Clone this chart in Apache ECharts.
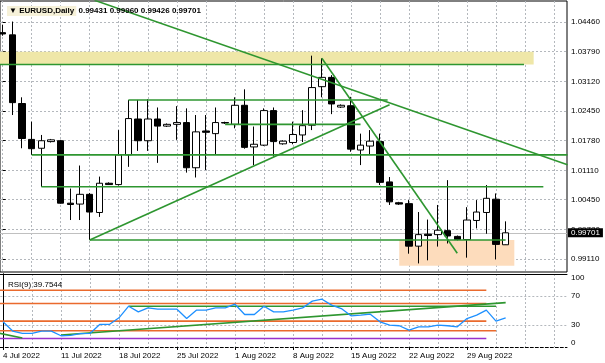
<!DOCTYPE html>
<html><head><meta charset="utf-8">
<script src="https://cdn.jsdelivr.net/npm/echarts@6/dist/echarts.min.js"></script>
<style>html,body{margin:0;padding:0;background:#fff}#c{width:605px;height:363px}</style>
</head><body><div id="c"></div>
<script>
const categories = ['4 Jul 2022','5 Jul 2022','6 Jul 2022','7 Jul 2022','8 Jul 2022','10 Jul 2022','11 Jul 2022','12 Jul 2022','13 Jul 2022','14 Jul 2022','15 Jul 2022','17 Jul 2022','18 Jul 2022','19 Jul 2022','20 Jul 2022','21 Jul 2022','22 Jul 2022','24 Jul 2022','25 Jul 2022','26 Jul 2022','27 Jul 2022','28 Jul 2022','29 Jul 2022','31 Jul 2022','1 Aug 2022','2 Aug 2022','3 Aug 2022','4 Aug 2022','5 Aug 2022','7 Aug 2022','8 Aug 2022','9 Aug 2022','10 Aug 2022','11 Aug 2022','12 Aug 2022','14 Aug 2022','15 Aug 2022','16 Aug 2022','17 Aug 2022','18 Aug 2022','19 Aug 2022','21 Aug 2022','22 Aug 2022','23 Aug 2022','24 Aug 2022','25 Aug 2022','26 Aug 2022','28 Aug 2022','29 Aug 2022','30 Aug 2022','31 Aug 2022','1 Sep 2022','2 Sep 2022'];
const openP  = [1.0422,1.0417,1.0262,1.0181,1.0161,1.0176,1.0178,1.0037,1.0035,1.0057,1.0016,1.0082,1.0079,1.0146,1.0227,1.0178,1.0227,1.0211,1.0215,1.0219,1.0117,1.0200,1.0194,1.0219,1.0215,1.0258,1.0164,1.0168,1.0246,1.0171,1.0174,1.0191,1.0213,1.0300,1.0321,1.0254,1.0257,1.0157,1.0166,1.0176,1.0085,1.0038,1.0036,0.9940,0.9967,0.9966,0.9975,0.9962,0.9955,0.9998,1.0016,1.0046,0.99431];
const highP  = [1.0440,1.0447,1.0276,1.0221,1.0191,1.0182,1.0180,1.0070,1.0122,1.0060,1.0097,1.0084,1.0202,1.0270,1.0270,1.0272,1.0253,1.0217,1.0256,1.0251,1.0236,1.0236,1.0253,1.0221,1.0276,1.0294,1.0210,1.0251,1.0253,1.0179,1.0221,1.0247,1.0370,1.0364,1.0326,1.0260,1.0277,1.0194,1.0202,1.0194,1.0096,1.0040,1.0044,1.0017,1.0000,1.0033,1.0089,0.9964,1.0028,1.0044,1.0078,1.0059,0.99960];
const lowP   = [1.0415,1.0236,1.0161,1.0146,1.0074,1.0174,1.0036,0.9999,0.9999,0.9954,1.0006,1.0078,1.0077,1.0119,1.0155,1.0155,1.0128,1.0209,1.0180,1.0106,1.0095,1.0112,1.0146,1.0216,1.0206,1.0160,1.0123,1.0166,1.0142,1.0169,1.0170,1.0175,1.0202,1.0276,1.0238,1.0252,1.0153,1.0123,1.0146,1.0078,1.0033,1.0033,0.9923,0.9901,0.9908,0.9939,0.9946,0.9953,0.9914,0.9980,0.9968,0.9910,0.99426];
const closeP = [1.0419,1.0264,1.0183,1.0160,1.0178,1.0180,1.0037,1.0034,1.0057,1.0017,1.0082,1.0079,1.0146,1.0228,1.0178,1.0227,1.0211,1.0215,1.0219,1.0117,1.0198,1.0197,1.0219,1.0218,1.0258,1.0163,1.0170,1.0246,1.0176,1.0177,1.0192,1.0212,1.0298,1.0321,1.0261,1.0258,1.0159,1.0168,1.0177,1.0084,1.0040,1.0035,0.9940,0.9966,0.9964,0.9976,0.9963,0.9955,0.9999,1.0017,1.0048,0.9944,0.99701];
const rsiValues = [34.5,21.8,18.6,18.6,21.8,21.8,15.4,15.9,18.2,18.6,30.9,30.9,40.0,55.9,48.2,53.6,51.8,51.8,51.8,39.0,50.5,50.5,53.6,53.6,58.6,44.5,44.5,55.9,48.2,48.2,50.5,53.6,62.8,65.5,57.3,52.7,42.7,43.6,45.0,34.5,30.0,29.1,23.2,27.7,27.7,30.0,29.1,27.7,39.0,43.6,50.5,35.5,39.7544];
const priceTicks = [0.99110,0.99780,1.00450,1.01110,1.01780,1.02450,1.03120,1.03790,1.04460];
const rsiTicks = [0,30,70,100];
const rsiGridLevels = [30,70];
const dateTickLabels = ['4 Jul 2022','11 Jul 2022','18 Jul 2022','25 Jul 2022','1 Aug 2022','8 Aug 2022','15 Aug 2022','22 Aug 2022','29 Aug 2022'];
const symbolName = 'EURUSD,Daily';
const rsiName = 'RSI(9)';
// drawing objects, in (bar index, price)
const greenLines = [
  [[9.5,1.0495],[58.4,1.0124]],
  [[13,1.0270],[39.8,1.0270]],
  [[23,1.0215],[37,1.0215]],
  [[3,1.0146],[58.4,1.0146]],
  [[4,1.0074],[55.9,1.0074]],
  [[9,0.9954],[52,0.9954]],
  [[9,0.9954],[40,1.0259]],
  [[33,1.0364],[47,0.9924]],
  [[-1,1.0350],[53.9,1.0350]]
];
const yellowZone = [[-1,1.0379],[54.9,1.0350]];
const peachZone = [[41,0.9954],[52.9,0.9896]];
// RSI window objects, in (bar index, RSI)
const rsiOrangeLines = [
  [[-1,77.8],[50,77.8]],
  [[-1,59.5],[50,59.5]],
  [[-1,35.5],[50,35.5]],
  [[-1,22.2],[51,22.2]]
];
const rsiPurpleLine = [[-1,11.7],[50,11.7]];
const rsiGreenLines = [
  [[13,55.9],[51,55.9]],
  [[6,16.4],[52,60.8]],
  [[-1,20.6],[2,12.3]]
];

const FONT = 'Liberation Sans, Arial, sans-serif';
const XMIN = -0.277, XMAX = 58.346;
const YMIN = 0.988165, YMAX = 1.049341;
const GREEN = '#2e9630', ORANGE = '#ea6a2d', PURPLE = '#9932cc', GRIDC = '#b4b8bd';
const last = closeP.length - 1;
const gridBars = []; for (let i = 0; i <= XMAX; i += 3) gridBars.push(i);
const dateBars = dateTickLabels.map(l => categories.indexOf(l));

const chart = echarts.init(document.getElementById('c'), null, {renderer: 'canvas'});
const candleData = categories.map((d, i) => [i, openP[i], closeP[i], lowP[i], highP[i]]);

const series = [];
series.push({
  type: 'line', xAxisIndex: 0, yAxisIndex: 0, data: [yellowZone[0], peachZone[1]], showSymbol: false, symbol: 'none',
  lineStyle: {opacity: 0}, silent: true, z: 1,
  markArea: {silent: true, z: 1, itemStyle: {opacity: 1},
    data: [
      [{coord: yellowZone[0], itemStyle: {color: '#efe7a8'}}, {coord: yellowZone[1]}],
      [{coord: peachZone[0], itemStyle: {color: '#fddcbc'}}, {coord: peachZone[1]}]
    ]}
});
series.push({
  type: 'candlestick', xAxisIndex: 0, yAxisIndex: 0, z: 3,
  dimensions: ['idx','open','close','lowest','highest'],
  encode: {x: 0, y: [1,2,3,4]},
  data: candleData, barWidth: 7,
  itemStyle: {color: '#ffffff', color0: '#000000', borderColor: '#000000', borderColor0: '#000000', borderWidth: 1},
  markLine: {silent: true, z: 2, symbol: 'none', precision: 5,
    lineStyle: {color: '#c0c0c0', type: 'solid', width: 1},
    label: {show: true, position: 'end', distance: 1, formatter: p => Number(p.value).toFixed(5),
      backgroundColor: '#000', color: '#fff', fontFamily: FONT, fontSize: 8, padding: [1,3,0,3]},
    data: [{yAxis: closeP[last]}]}
});
greenLines.forEach(l => series.push({type: 'line', xAxisIndex: 0, yAxisIndex: 0, data: l, symbol: 'none', silent: true, z: 4,
  lineStyle: {color: GREEN, width: 1.6}}));
rsiOrangeLines.forEach(l => series.push({type: 'line', xAxisIndex: 1, yAxisIndex: 1, data: l, symbol: 'none', silent: true, z: 3,
  lineStyle: {color: ORANGE, width: 1.6}}));
series.push({type: 'line', xAxisIndex: 1, yAxisIndex: 1, data: rsiPurpleLine, symbol: 'none', silent: true, z: 3,
  lineStyle: {color: PURPLE, width: 1.6}});
rsiGreenLines.forEach(l => series.push({type: 'line', xAxisIndex: 1, yAxisIndex: 1, data: l, symbol: 'none', silent: true, z: 4,
  lineStyle: {color: GREEN, width: 1.6}}));
series.push({type: 'line', xAxisIndex: 1, yAxisIndex: 1, data: rsiValues.map((v, i) => [i, v]), symbol: 'none', silent: true, z: 5,
  lineStyle: {color: '#1e90ff', width: 1.3}});

const dotted = {show: true, lineStyle: {color: GRIDC, type: [2,2], width: 1}};
const lbl = {fontFamily: FONT, fontSize: 8, color: '#000'};

chart.setOption({
  animation: false,
  backgroundColor: '#fff',
  title: [
    {left: 2, top: 1, text: '{s|▼ ' + symbolName + '}{v| ' + [openP[last], highP[last], lowP[last], closeP[last]].map(v => v.toFixed(5)).join(' ') + '}',
     textStyle: {rich: {
       s: {fontFamily: FONT, fontSize: 8, color: '#000', backgroundColor: '#f6f1d8', padding: [1,2,1,2]},
       v: {fontFamily: FONT, fontSize: 8, color: '#000', padding: [1,0,1,0]}
     }}},
    {left: 3, top: 276, text: rsiName + ' ' + rsiValues[last].toFixed(4), textStyle: {fontFamily: FONT, fontSize: 8, color: '#000', fontWeight: 'normal'}}
  ],
  grid: [
    {left: 0, right: 38, top: 1, height: 271, show: true, borderColor: '#000', borderWidth: 1, backgroundColor: 'transparent'},
    {left: 0, right: 38, top: 274, height: 73, show: false}
  ],
  xAxis: [
    {gridIndex: 0, type: 'value', min: XMIN, max: XMAX, axisLine: {show: false}, axisTick: {show: false, customValues: gridBars},
     axisLabel: {show: false}, splitLine: dotted},
    {gridIndex: 1, type: 'value', min: XMIN, max: XMAX, axisLine: {show: false}, axisTick: {show: false, customValues: gridBars},
     axisLabel: {show: false}, splitLine: dotted},
    {gridIndex: 1, type: 'value', min: XMIN, max: XMAX, position: 'bottom',
     axisLine: {show: true, onZero: false, lineStyle: {color: '#000', type: [3,2], width: 1}},
     axisTick: {show: true, customValues: dateBars, length: 3, lineStyle: {color: '#000'}},
     axisLabel: Object.assign({customValues: dateBars, formatter: v => categories[Math.round(v)], align: 'left', margin: 5}, lbl),
     splitLine: {show: false}},
    {gridIndex: 1, type: 'value', min: XMIN, max: XMAX, position: 'top',
     axisLine: {show: true, onZero: false, lineStyle: {color: '#000', width: 1}}, axisTick: {show: false}, axisLabel: {show: false}, splitLine: {show: false}}
  ],
  yAxis: [
    {gridIndex: 0, type: 'value', position: 'right', min: YMIN, max: YMAX, scale: true,
     axisLine: {show: false},
     axisTick: {show: true, customValues: priceTicks, length: 3, lineStyle: {color: '#000'}},
     axisLabel: Object.assign({customValues: priceTicks, formatter: v => v.toFixed(5), margin: 4}, lbl),
     splitLine: dotted},
    {gridIndex: 1, type: 'value', position: 'right', min: 0, max: 100,
     axisLine: {show: true, lineStyle: {color: '#000', width: 1}},
     axisTick: {show: false, customValues: rsiGridLevels},
     axisLabel: Object.assign({customValues: rsiTicks, formatter: v => String(v), margin: 4,
       verticalAlignMinLabel: 'bottom', verticalAlignMaxLabel: 'top'}, lbl),
     splitLine: dotted},
    {gridIndex: 1, type: 'value', position: 'left', min: 0, max: 100,
     axisLine: {show: true, lineStyle: {color: '#000', width: 1}}, axisTick: {show: false}, axisLabel: {show: false}, splitLine: {show: false}}
  ],
  series: series
});
</script></body></html>
